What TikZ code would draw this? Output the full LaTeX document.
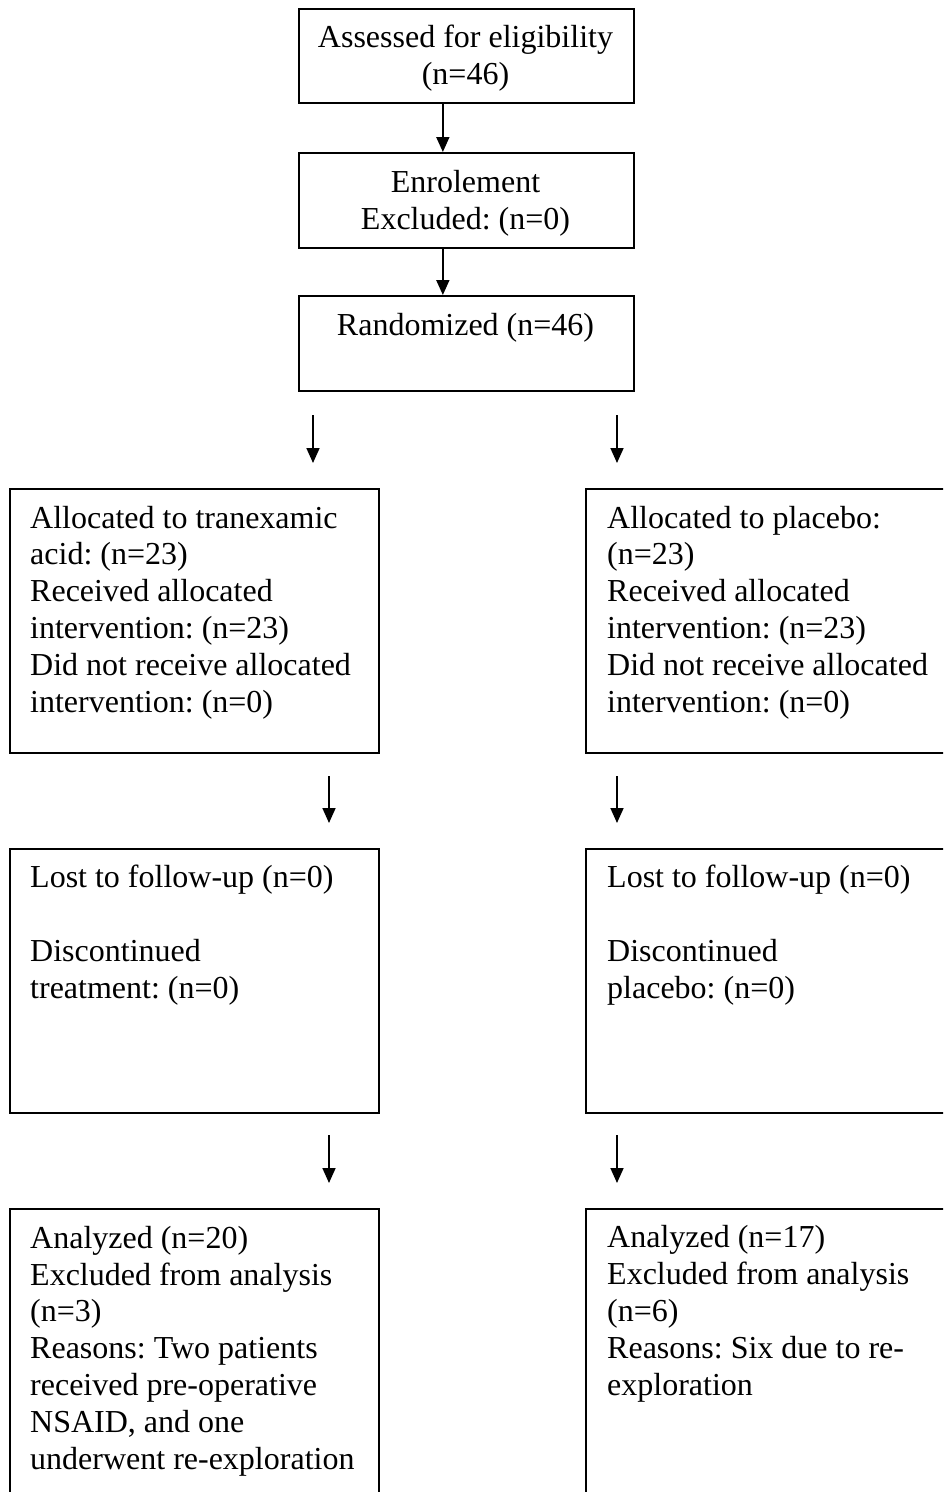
\documentclass[tikz,border=0pt]{standalone}
\usepackage{fontspec}
\setmainfont{Liberation Serif}
\usetikzlibrary{arrows.meta}
\frenchspacing
\begin{document}
\begin{tikzpicture}[x=1pt,y=-1pt,
  box/.style={draw, line width=1.7pt, inner sep=0pt, anchor=north west},
  txt/.style={font=\fontsize{32}{36.8}\selectfont, align=left, inner sep=0pt, anchor=base west},
  ctxt/.style={font=\fontsize{32}{36.8}\selectfont, align=center, inner sep=0pt, anchor=base},
  arr/.style={line width=1.7pt, -{Triangle[length=15pt,width=13pt]}}]
\useasboundingbox (0,0) rectangle (943,1492);
\clip (0,0) rectangle (943,1492);
% boxes
\node[box, minimum width=335pt, minimum height=94pt] (b1) at (298,8) {};
\node[box, minimum width=335pt, minimum height=95pt] (b2) at (298,152) {};
\node[box, minimum width=335pt, minimum height=95pt] (b3) at (298,295) {};
\node[box, minimum width=369pt, minimum height=264pt] (l1) at (9,488) {};
\node[box, minimum width=375pt, minimum height=264pt] (r1) at (585,488) {};
\node[box, minimum width=369pt, minimum height=264pt] (l2) at (9,848) {};
\node[box, minimum width=375pt, minimum height=264pt] (r2) at (585,848) {};
\node[box, minimum width=369pt, minimum height=312pt] (l3) at (9,1208) {};
\node[box, minimum width=375pt, minimum height=312pt] (r3) at (585,1208) {};
% texts (anchor = baseline of the last line)
\node[ctxt] (t1) at (465.5,84) {Assessed for eligibility\\(n=46)};
\node[ctxt] (t2) at (465.5,229) {Enrolement\\Excluded: (n=0)};
\node[ctxt] (t3) at (465.5,335) {Randomized (n=46)};
\node[txt] (tl1) at (30,712) {Allocated to tranexamic\\acid: (n=23)\\Received allocated\\intervention: (n=23)\\Did not receive allocated\\intervention: (n=0)};
\node[txt] (tr1) at (607,712) {Allocated to placebo:\\(n=23)\\Received allocated\\intervention: (n=23)\\Did not receive allocated\\intervention: (n=0)};
\node[txt] (tl2) at (30,998) {Lost to follow-up (n=0)\\[36.8pt]Discontinued\\treatment: (n=0)};
\node[txt] (tr2) at (607,998) {Lost to follow-up (n=0)\\[36.8pt]Discontinued\\placebo: (n=0)};
\node[txt] (tl3) at (30,1469) {Analyzed (n=20)\\Excluded from analysis\\(n=3)\\Reasons: Two patients\\received pre-operative\\NSAID, and one\\underwent re-exploration};
\node[txt] (tr3) at (607,1395) {Analyzed (n=17)\\Excluded from analysis\\(n=6)\\Reasons: Six due to re-\\exploration};
% connectors
\draw[arr] ([xshift=-23.5pt]b1.south) -- ([xshift=-23.5pt]b2.north);
\draw[arr] ([xshift=-23.5pt]b2.south) -- ([xshift=-23.5pt]b3.north);
\coordinate (la0) at (313,415); \coordinate (la1) at (313,463);
\coordinate (ra0) at (617,415); \coordinate (ra1) at (617,463);
\coordinate (lb0) at (329,776); \coordinate (lb1) at (329,823);
\coordinate (rb0) at (617,776); \coordinate (rb1) at (617,823);
\coordinate (lc0) at (329,1135); \coordinate (lc1) at (329,1183);
\coordinate (rc0) at (617,1135); \coordinate (rc1) at (617,1183);
\draw[arr] (la0) -- (la1);
\draw[arr] (ra0) -- (ra1);
\draw[arr] (lb0) -- (lb1);
\draw[arr] (rb0) -- (rb1);
\draw[arr] (lc0) -- (lc1);
\draw[arr] (rc0) -- (rc1);
\end{tikzpicture}
\end{document}
